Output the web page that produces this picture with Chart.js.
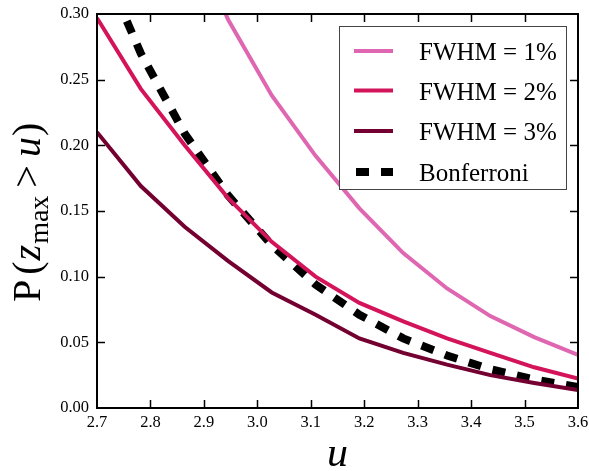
<!DOCTYPE html>
<html><head><meta charset="utf-8">
<script src="https://cdn.jsdelivr.net/npm/chart.js@4/dist/chart.umd.min.js"></script>
<style>html,body{margin:0;padding:0;background:#fff;overflow:hidden;}</style>
</head><body>
<canvas id="c" width="589" height="471" style="display:block;width:589px;height:471px"></canvas>
<script>
// ---- data ----
const uValues   = [2.700, 2.782, 2.864, 2.945, 3.027, 3.109, 3.191, 3.273, 3.355, 3.436, 3.518, 3.600];
const fwhm1     = [0.555, 0.455, 0.372, 0.296, 0.238, 0.192, 0.152, 0.118, 0.091, 0.070, 0.054, 0.0404];
const fwhm2     = [0.297, 0.243, 0.200, 0.160, 0.1265, 0.100, 0.080, 0.066, 0.053, 0.042, 0.031, 0.0225];
const fwhm3     = [0.210, 0.169, 0.138, 0.112, 0.088, 0.071, 0.053, 0.042, 0.033, 0.025, 0.019, 0.0137];
const bonferroni= [0.347, 0.270, 0.209, 0.162, 0.124, 0.094, 0.071, 0.053, 0.040, 0.0295, 0.0217, 0.0159];
const seriesLabels = ['FWHM = 1%', 'FWHM = 2%', 'FWHM = 3%', 'Bonferroni'];
const seriesColors = ['#df66b1', '#d4145a', '#730030', '#000000'];
const xTicks = [2.7, 2.8, 2.9, 3.0, 3.1, 3.2, 3.3, 3.4, 3.5, 3.6];
const yTicks = [0.00, 0.05, 0.10, 0.15, 0.20, 0.25, 0.30];
const xTitle = 'u';

const SERIF = "'Liberation Serif','Times New Roman',serif";
const toPts = arr => uValues.map((u, i) => ({x: u, y: arr[i]}));
const BON_DASH = [13, 12];

const frameTicks = {
  id: 'frameTicks',
  afterDatasetsDraw(chart) {
    const {ctx, chartArea: a, scales: {x, y}} = chart;
    ctx.save();
    ctx.strokeStyle = '#000';
    ctx.lineWidth = 1.5;
    ctx.beginPath();
    xTicks.forEach(v => {
      const px = Math.round(x.getPixelForValue(v)) + 0.5;
      if (px < a.left + 2 || px > a.right - 2) return;
      ctx.moveTo(px, a.bottom); ctx.lineTo(px, a.bottom - 8);
      ctx.moveTo(px, a.top); ctx.lineTo(px, a.top + 8);
    });
    yTicks.forEach(v => {
      const py = Math.round(y.getPixelForValue(v)) + 0.5;
      if (py < a.top + 2 || py > a.bottom - 2) return;
      ctx.moveTo(a.left, py); ctx.lineTo(a.left + 8, py);
      ctx.moveTo(a.right, py); ctx.lineTo(a.right - 8, py);
    });
    ctx.stroke();
    ctx.lineWidth = 2;
    ctx.strokeRect(a.left, a.top, a.right - a.left, a.bottom - a.top);

    // legend
    const lx = 339.5, ly = 26.5, lw = 227, lh = 163;
    ctx.fillStyle = '#fff';
    ctx.fillRect(lx, ly, lw, lh);
    ctx.lineWidth = 1;
    ctx.strokeStyle = '#444';
    ctx.strokeRect(lx, ly, lw, lh);
    const rowsY = [51, 90.5, 131, 172];
    const baseY = [60, 99.5, 140, 180.5];
    chart.data.datasets.forEach((ds, i) => {
      ctx.save();
      ctx.strokeStyle = ds.borderColor;
      ctx.lineWidth = ds.borderWidth;
      ctx.lineCap = 'butt';
      if (ds.borderDash && ds.borderDash.length) ctx.setLineDash(ds.borderDash);
      ctx.beginPath();
      ctx.moveTo(i === 3 ? 356 : 354, rowsY[i]);
      ctx.lineTo(i === 3 ? 393 : 393, rowsY[i]);
      ctx.stroke();
      ctx.restore();
      ctx.fillStyle = '#000';
      ctx.font = '25px ' + SERIF;
      ctx.textBaseline = 'alphabetic';
      ctx.textAlign = 'left';
      ctx.fillText(ds.label, 419, baseY[i]);
    });

    // x title
    ctx.fillStyle = '#000';
    ctx.font = 'italic 42px ' + SERIF;
    ctx.textAlign = 'center';
    ctx.textBaseline = 'alphabetic';
    ctx.fillText(xTitle, (a.left + a.right) / 2, 466);

    // y title: P (z_max > u)
    ctx.save();
    ctx.translate(40, 302);
    ctx.rotate(-Math.PI / 2);
    ctx.textAlign = 'left';
    const parts = [
      {t: 'P', f: '40px ' + SERIF, dy: 0, gap: 5},
      {t: '(', f: '40px ' + SERIF, dy: 0, gap: 1},
      {t: 'z', f: 'italic 40px ' + SERIF, dy: 0, gap: 1},
      {t: 'max', f: '28px ' + SERIF, dy: 8, gap: 8},
      {t: '>', f: '40px ' + SERIF, dy: 0, gap: 8},
      {t: 'u', f: 'italic 40px ' + SERIF, dy: 0, gap: 1},
      {t: ')', f: '40px ' + SERIF, dy: 0, gap: 0}
    ];
    let cx = 0;
    parts.forEach(p => {
      ctx.font = p.f;
      ctx.fillText(p.t, cx, p.dy);
      cx += ctx.measureText(p.t).width + p.gap;
    });
    ctx.restore();
    ctx.restore();
  }
};

new Chart(document.getElementById('c'), {
  type: 'line',
  data: {
    datasets: [
      {label: seriesLabels[0], data: toPts(fwhm1), borderColor: seriesColors[0], borderWidth: 4},
      {label: seriesLabels[1], data: toPts(fwhm2), borderColor: seriesColors[1], borderWidth: 4},
      {label: seriesLabels[2], data: toPts(fwhm3), borderColor: seriesColors[2], borderWidth: 4},
      {label: seriesLabels[3], data: toPts(bonferroni), borderColor: seriesColors[3], borderWidth: 8, borderDash: BON_DASH, borderCapStyle: 'butt'}
    ].map(d => Object.assign({pointRadius: 0, pointHoverRadius: 0, fill: false, tension: 0, clip: 0, borderJoinStyle: 'miter'}, d))
  },
  options: {
    responsive: false,
    devicePixelRatio: 1,
    animation: false,
    events: [],
    layout: {padding: {left: 0, right: 11, top: 14, bottom: 0}},
    plugins: {legend: {display: false}, tooltip: {enabled: false}, title: {display: false}},
    scales: {
      x: {
        type: 'linear', min: 2.7, max: 3.6,
        grid: {display: false, drawTicks: false},
        border: {display: false},
        afterBuildTicks: s => { s.ticks = xTicks.map(v => ({value: v})); },
        afterFit: s => { s.height = 63; s.paddingLeft = 0; s.paddingRight = 0; },
        ticks: {
          autoSkip: false, maxRotation: 0, padding: 5, color: '#000',
          font: {family: SERIF, size: 16.5},
          callback: v => Number(v).toFixed(1)
        }
      },
      y: {
        type: 'linear', min: 0, max: 0.3,
        grid: {display: false, drawTicks: false},
        border: {display: false},
        afterBuildTicks: s => { s.ticks = yTicks.map(v => ({value: v})); },
        afterFit: s => { s.width = 97; s.paddingTop = 0; s.paddingBottom = 0; },
        ticks: {
          autoSkip: false, padding: 8, color: '#000',
          font: {family: SERIF, size: 16.5},
          callback: v => Number(v).toFixed(2)
        }
      }
    }
  },
  plugins: [frameTicks]
});
</script>
</body></html>
